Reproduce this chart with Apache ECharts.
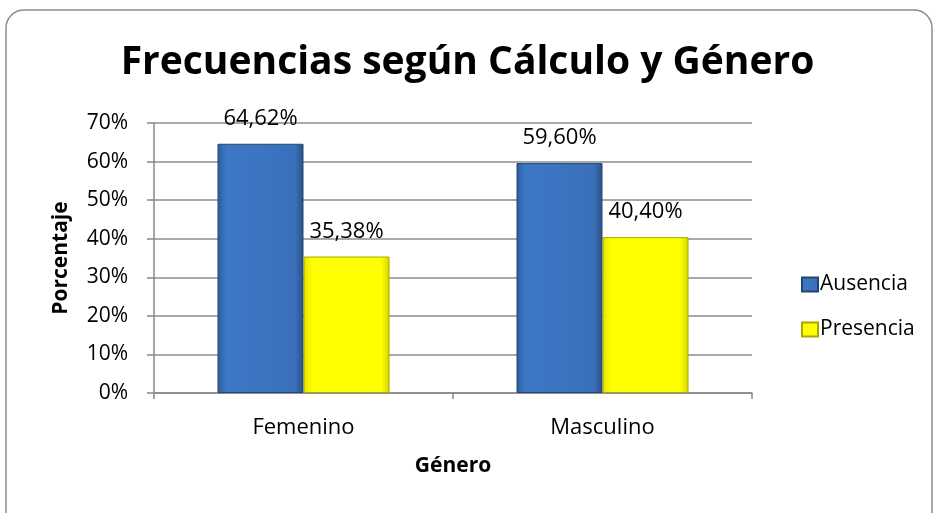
<!DOCTYPE html>
<html>
<head>
<meta charset="utf-8">
<script src="https://cdn.jsdelivr.net/npm/echarts@6/dist/echarts.min.js"></script>
<style>
    html, body {
        margin: 0;
        padding: 0;
        background: #fff;
    }

    #main {
        width: 935px;
        height: 513px;
    }
</style>
</head>
<body>
<div id="main"></div>
<script>
    // datos del gráfico
    var categorias = ['Femenino', 'Masculino'];
    var ausencia = [64.62, 59.60];
    var presencia = [35.38, 40.40];
    var ticksY = [0, 10, 20, 30, 40, 50, 60, 70];

    var fuente = 'Open Sans';

    function pct(v) {
        return v.toFixed(2).replace('.', ',') + '%';
    }

    var chart = echarts.init(document.getElementById('main'));

    var option = {
        animation: false,
        title: {
            text: 'Frecuencias según Cálculo y Género',
            left: 'center',
            top: 38,
            textStyle: {
                fontFamily: fuente,
                fontWeight: 'bold',
                fontSize: 39,
                color: '#000'
            }
        },
        // marco redondeado
        graphic: [{
            type: 'rect',
            shape: { x: 6, y: 10, width: 926, height: 520, r: 18 },
            style: { fill: 'none', stroke: '#8c8c8c', lineWidth: 1.5 },
            silent: true
        }],
        legend: {
            orient: 'vertical',
            left: 796,
            top: 269,
            icon: 'rect',
            itemWidth: 16,
            itemHeight: 14,
            itemGap: 24,
            textStyle: { fontFamily: fuente, fontSize: 21, color: '#000', padding: [0, 0, 0, -3] },
            data: ['Ausencia', 'Presencia']
        },
        grid: {
            left: 154,
            right: 183,
            top: 123,
            bottom: 120
        },
        xAxis: {
            type: 'category',
            data: categorias,
            name: 'Género',
            nameLocation: 'middle',
            nameGap: 63,
            nameTextStyle: { fontFamily: fuente, fontWeight: 'bold', fontSize: 21, color: '#000' },
            axisLine: { lineStyle: { color: '#888', width: 1.5 } },
            axisTick: { show: true, length: 6, lineStyle: { color: '#888', width: 1.5 } },
            axisLabel: { fontFamily: fuente, fontSize: 22, color: '#000', margin: 24 }
        },
        yAxis: {
            type: 'value',
            min: ticksY[0],
            max: ticksY[ticksY.length - 1],
            interval: 10,
            name: 'Porcentaje',
            nameLocation: 'middle',
            nameGap: 82,
            nameTextStyle: { fontFamily: fuente, fontWeight: 'bold', fontSize: 21, color: '#000' },
            axisLine: { show: true, lineStyle: { color: '#888', width: 1.5 } },
            axisTick: { show: true, length: 7, lineStyle: { color: '#888', width: 1.5 } },
            splitLine: { lineStyle: { color: '#8c8c8c', width: 1.5 } },
            axisLabel: {
                fontFamily: fuente, fontSize: 21, color: '#000', margin: 26,
                formatter: function (v) { return v + '%'; }
            }
        },
        series: [{
            name: 'Ausencia',
            type: 'bar',
            data: ausencia,
            barWidth: 86,
            barGap: '0%',
            itemStyle: {
                color: new echarts.graphic.LinearGradient(0, 0, 1, 0, [
                    { offset: 0, color: '#2d5c9b' },
                    { offset: 0.1, color: '#3d78c6' },
                    { offset: 0.9, color: '#3a70ba' },
                    { offset: 1, color: '#2a5288' }
                ]),
                borderColor: '#24456f',
                borderWidth: 1
            },
            label: {
                show: true,
                position: 'top',
                distance: 14,
                fontFamily: fuente,
                fontSize: 22,
                color: '#000',
                formatter: function (p) { return pct(p.value); }
            }
        }, {
            name: 'Presencia',
            type: 'bar',
            data: presencia,
            barWidth: 86,
            itemStyle: {
                color: new echarts.graphic.LinearGradient(0, 0, 1, 0, [
                    { offset: 0, color: '#e3e300' },
                    { offset: 0.1, color: '#ffff00' },
                    { offset: 0.9, color: '#ffff00' },
                    { offset: 1, color: '#d4d400' }
                ]),
                borderColor: '#a8a800',
                borderWidth: 1
            },
            label: {
                show: true,
                position: 'top',
                distance: 14,
                fontFamily: fuente,
                fontSize: 22,
                color: '#000',
                formatter: function (p) { return pct(p.value); }
            }
        }]
    };

    chart.setOption(option);
</script>
</body>
</html>
